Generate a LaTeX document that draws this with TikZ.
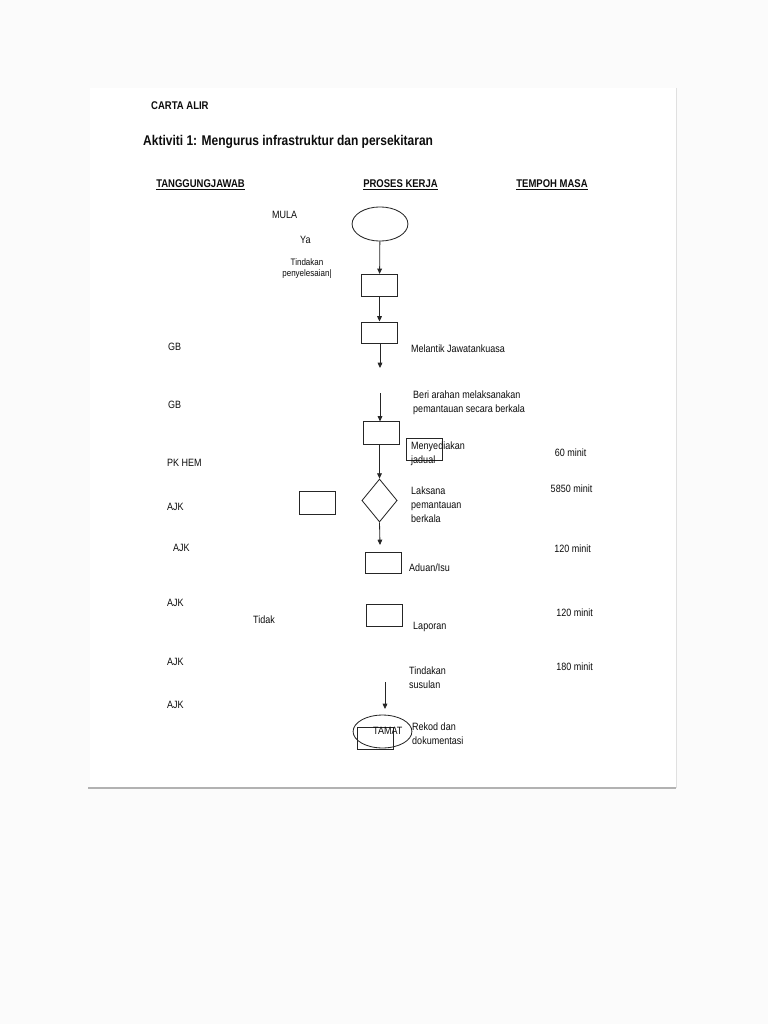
\documentclass[tikz,border=0pt]{standalone}
\usepackage{fontspec}
\setmainfont{Liberation Sans}[FakeStretch=0.85]
\usetikzlibrary{arrows.meta,shapes.geometric}

\begin{document}
\begin{tikzpicture}[x=0.85pt, y=-0.85pt, >={Triangle[length=4.5pt,width=4pt]},
  garis/.style={draw=black!85, line width=0.7pt},
  kotak/.style={garis, rectangle, inner sep=0pt, minimum width=30.6pt, minimum height=19pt},
  teks/.style={anchor=west, inner sep=0pt, text=black!95, align=left,
    font=\fontsize{9}{11.5}\selectfont},
  kepala/.style={inner sep=0pt, text=black!95, font=\fontsize{9.5}{11}\selectfont\bfseries},
  masa/.style={inner sep=0pt, text=black!95, font=\fontsize{9}{11}\selectfont}]

% Page
\fill[black!1.5] (0,0) rectangle (768,1024);
\fill[white] (90,88) rectangle (676,788);
\draw[black!12, line width=0.5pt] (676,88) -- (676,788);
\draw[black!30, line width=1.2pt] (88,788) -- (676,788);
\useasboundingbox (0,0) rectangle (768,1024);

% Title
\node[teks, font=\fontsize{9.5}{11}\selectfont\bfseries] (carta) at (151,106) {CARTA ALIR};
\node[teks, font=\fontsize{12}{14}\selectfont\bfseries] (tajuk) at (143,142) {Aktiviti 1: Mengurus infrastruktur dan persekitaran};

% Column headings
\node[kepala] (hTJ) at (200.5,185) {\underline{TANGGUNGJAWAB}};
\node[kepala] (hPK) at (400.5,185) {\underline{PROSES KERJA}};
\node[kepala] (hTM) at (552,185) {\underline{TEMPOH MASA}};

% ---- Flow shapes ----
\node[garis, ellipse, inner sep=0pt, minimum width=47.5pt, minimum height=29pt] (mula) at (380,224) {};
\node[kotak] (k1) at (379.5,285.5) {};
\node[kotak, minimum height=18pt] (k2) at (379.5,332.5) {};
\node[kotak] (k3) at (381,433) {};
\node[kotak] (kJadual) at (424,449.5) {};
\node[garis, diamond, inner sep=0pt, minimum width=30pt, minimum height=36.5pt] (d) at (379.5,500.5) {};
\node[kotak] (kKiri) at (317,503) {};
\node[kotak, minimum height=18pt] (k4) at (383.5,562.5) {};
\node[kotak] (k5) at (384,615.5) {};
\node[garis, ellipse, inner sep=0pt, minimum width=50pt, minimum height=28pt] (tamat) at (382.5,731.5) {};
\node[kotak] (kTamat) at (375,738.5) {};

% Free arrow ends
\coordinate (a1) at (380,368);
\coordinate (a2) at (380,393);
\coordinate (a3) at (380,545);
\coordinate (a4) at (385,682);
\coordinate (a5) at (385,709);

% Arrows
\draw[garis, ->] (mula) -- (k1);
\draw[garis, ->] (k1) -- (k2);
\draw[garis, ->] (k2.south -| a1) -- (a1);
\draw[garis, ->] (a2) -- (a2 |- k3.north);
\draw[garis, ->] (k3.south -| d.north) -- (d.north);
\draw[garis, ->] (d.south) -- (a3);
\draw[garis, ->] (a4) -- (a5);

% ---- Process texts ----
\node[teks] (tMula) at (272,215) {MULA};
\node[teks] (tYa) at (300,240) {Ya};
\node[teks, anchor=center, align=center, font=\fontsize{8}{9.4}\selectfont] (tSelesai) at (307,268.5) {Tindakan\\penyelesaian|};
\node[teks] (tMelantik) at (411,349) {Melantik Jawatankuasa};
\node[teks, font=\fontsize{9}{11.9}\selectfont] (tArahan) at (413,403) {Beri arahan melaksanakan\\pemantauan secara berkala};
\node[teks] (tJadual) at (411,453.5) {Menyediakan\\jadual};
\node[teks, font=\fontsize{9}{11.9}\selectfont] (tLaksana) at (411,505) {Laksana\\pemantauan\\berkala};
\node[teks] (tAduan) at (409,568) {Aduan/Isu};
\node[teks] (tLaporan) at (413,627) {Laporan};
\node[teks] (tSusulan) at (409,677.5) {Tindakan\\susulan};
\node[teks] (tTamat) at (373,731) {TAMAT};
\node[teks] (tRekod) at (412,733.5) {Rekod dan\\dokumentasi};
\node[teks] (tTidak) at (253,620) {Tidak};

% ---- Responsibility column ----
\foreach \x/\y/\lab [count=\i] in {168/347/GB, 168/405/GB, 167/463/PK HEM, 167/507/AJK,
    173/548/AJK, 167/603/AJK, 167/662/AJK, 167/705/AJK} {
  \node[teks] (tj\i) at (\x,\y) {\lab};
}

% ---- Time column ----
\foreach \x/\y/\lab [count=\i] in {570.5/453/60 minit, 571.5/489/5850 minit, 572.5/549/120 minit,
    574.5/613/120 minit, 574.5/667/180 minit} {
  \node[masa] (tm\i) at (\x,\y) {\lab};
}

\end{tikzpicture}
\end{document}
